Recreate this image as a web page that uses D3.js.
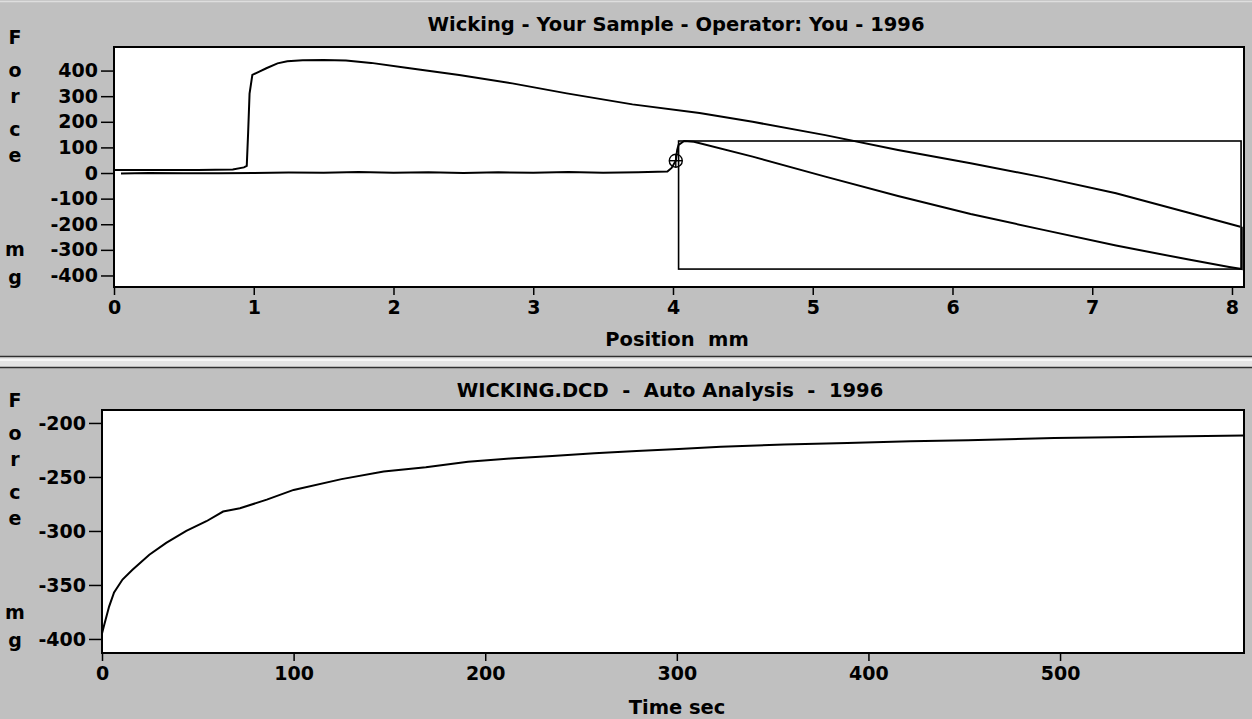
<!DOCTYPE html>
<html>
<head>
<meta charset="utf-8">
<script src="https://cdn.jsdelivr.net/npm/d3@7"></script>
<style>
  html, body { margin: 0; padding: 0; background: #c0c0c0; }
  svg { display: block; }
  text { font-family: "DejaVu Sans", sans-serif; font-weight: bold; fill: #000; white-space: pre; }
</style>
</head>
<body>
<svg id="chart"></svg>
<script>
// wicking test — force vs position (top) and force vs time (bottom)

// ── Top panel: advancing pass (position mm / force mg) ──────────────────────
const ADV_POS   = [0, 0.3, 0.6, 0.85, 0.93, 0.95, 0.96, 0.97, 0.99, 1.04, 1.09, 1.17, 1.24, 1.35, 1.5, 1.66,
                   1.84, 2.09, 2.47, 2.85, 3.24, 3.71, 4.19, 4.57, 5.09, 5.61, 6.13, 6.65, 7.17, 7.69, 8.06];
const ADV_FORCE = [12, 12, 12, 14, 22, 28, 160, 310, 383, 396, 409, 428, 436, 440, 441, 439,
                   430, 411, 383, 350, 311, 268, 234, 200, 148, 90, 38, -17, -79, -155, -210];

// ── Top panel: return pass ────────────────────────────────────────────────────
const REC_POS   = [8.07, 8.07, 7.98, 7.69, 7.17, 6.65, 6.13, 5.61, 5.09, 4.57, 4.15, 4.08, 4.04, 4.03, 4.02,
                   3.99, 3.96, 3.75, 3.5, 3.25, 3.0, 2.75, 2.5, 2.25, 2.0, 1.75, 1.5, 1.25, 1.0, 0.75, 0.5, 0.25, 0.05];
const REC_FORCE = [-210, -375, -367, -338, -283, -222, -160, -90, -14, 64, 122, 125, 110, 90, 48,
                   20, 6, 3, 1, 4, 1, 3, 0, 3, 1, 4, 1, 2, 0, -1, -1, 0, -2];

// analysis window + marker (data units)
const REGION_POS   = [4.04, 8.065];
const REGION_FORCE = [125, -375];
const MARK_POS = 4.02, MARK_FORCE = 48;

const POS_TICKS   = [0, 1, 2, 3, 4, 5, 6, 7, 8];
const FORCE_TICKS = [-400, -300, -200, -100, 0, 100, 200, 300, 400];

// ── Bottom panel: relaxation (time sec / force mg) ───────────────────────────
const TIME_SEC  = [0, 1, 3.7, 6.3, 10.7, 15.9, 24.7, 33.5, 44, 54.5, 63.2, 72, 86, 100, 125, 147, 169,
                   191, 213, 235, 257, 279, 301, 323, 356, 389, 422, 452, 497, 557, 596];
const TIME_FORCE = [-395, -388, -370, -357, -345, -336, -322, -311, -300, -291, -282, -279, -271, -262,
                    -252, -245, -241, -236, -233, -230.5, -228, -226, -224, -222, -220, -218.5, -217,
                    -216, -214, -212.5, -211.5];
const TIME_TICKS  = [0, 100, 200, 300, 400, 500];
const TFORCE_TICKS = [-400, -350, -300, -250, -200];

const TITLE_TOP = 'Wicking - Your Sample - Operator: You - 1996';
const TITLE_BOT = 'WICKING.DCD  -  Auto Analysis  -  1996';
const XLAB_TOP  = 'Position  mm';
const XLAB_BOT  = 'Time sec';
const YLAB = ['F', 'o', 'r', 'c', 'e', 'm', 'g'];
const YLAB_DY = [37, 70, 96, 129, 155, 249, 277];   // row offsets from panel top

const W = 1252, H = 719;
const FS_TICK = '19px';
const FS_LAB  = '19.5px';

const svg = d3.select('#chart').attr('width', W).attr('height', H);

svg.append('rect').attr('width', W).attr('height', H).attr('fill', '#c0c0c0');
svg.append('line').attr('x1', 0).attr('x2', W).attr('y1', 1.5).attr('y2', 1.5)
    .attr('stroke', '#dedede').attr('stroke-width', 1.5);

// ── Panel separator ───────────────────────────────────────────────────────────
svg.append('rect').attr('x', 0).attr('y', 357).attr('width', W).attr('height', 10).attr('fill', '#e4e4e4');
svg.append('line').attr('x1', 0).attr('x2', W).attr('y1', 360).attr('y2', 360)
    .attr('stroke', '#f6f6f6').attr('stroke-width', 2);
svg.append('line').attr('x1', 0).attr('x2', W).attr('y1', 356.5).attr('y2', 356.5)
    .attr('stroke', '#303030').attr('stroke-width', 1.5);
svg.append('line').attr('x1', 0).attr('x2', W).attr('y1', 367.5).attr('y2', 367.5)
    .attr('stroke', '#303030').attr('stroke-width', 1.5);

function panel(o) {
    const g = svg.append('g');
    const x = d3.scaleLinear().domain(o.xDomain).range([o.left, o.right]);
    const y = d3.scaleLinear().domain(o.yDomain).range([o.bottom, o.top]);

    g.append('rect')
        .attr('x', o.left).attr('y', o.top)
        .attr('width', o.right - o.left).attr('height', o.bottom - o.top)
        .attr('fill', '#fff');

    // axes — plain hyphen minus like the original
    const fmt = d => String(d);
    const ax = g.append('g').attr('transform', `translate(0,${o.bottom})`)
        .call(d3.axisBottom(x).tickValues(o.xTicks).tickSize(8).tickPadding(6).tickFormat(fmt));
    const ay = g.append('g').attr('transform', `translate(${o.left},0)`)
        .call(d3.axisLeft(y).tickValues(o.yTicks).tickSize(13).tickPadding(3).tickFormat(fmt));
    [ax, ay].forEach(a => {
        a.select('.domain').remove();
        a.attr('font-family', null).attr('font-size', null);
        a.selectAll('line').attr('stroke', '#000').attr('stroke-width', 1.5);
        a.selectAll('text').style('font-size', FS_TICK);
    });

    // curves
    const line = d3.line().x(d => x(d[0])).y(d => y(d[1]));
    o.series.forEach(s => {
        g.append('path')
            .datum(d3.zip(s[0], s[1]))
            .attr('d', line)
            .attr('fill', 'none')
            .attr('stroke', '#000')
            .attr('stroke-width', 2);
    });

    if (o.extra) o.extra(g, x, y);

    // frame
    g.append('rect')
        .attr('x', o.left).attr('y', o.top)
        .attr('width', o.right - o.left).attr('height', o.bottom - o.top)
        .attr('fill', 'none').attr('stroke', '#000').attr('stroke-width', 2);

    // texts
    g.append('text').attr('x', o.titleX).attr('y', o.titleY)
        .attr('text-anchor', 'middle').style('font-size', FS_LAB).text(o.title);
    g.append('text').attr('x', o.xlabX).attr('y', o.xlabY)
        .attr('text-anchor', 'middle').style('font-size', FS_LAB).text(o.xlab);
    YLAB.forEach((ch, i) => {
        g.append('text').attr('x', 15).attr('y', o.labTop + YLAB_DY[i])
            .attr('text-anchor', 'middle').attr('dy', '0.36em')
            .style('font-size', FS_TICK).text(ch);
    });
}

// ── Top panel ─────────────────────────────────────────────────────────────────
panel({
    left: 114, right: 1244, top: 47, bottom: 287,
    xDomain: [0, 8.086], yDomain: [-445, 492],
    xTicks: POS_TICKS, yTicks: FORCE_TICKS,
    series: [[ADV_POS, ADV_FORCE], [REC_POS, REC_FORCE]],
    title: TITLE_TOP, titleX: 676, titleY: 31,
    xlab: XLAB_TOP, xlabX: 677, xlabY: 346,
    labTop: 0,
    extra: (g, x, y) => {
        g.append('rect')
            .attr('x', x(REGION_POS[0])).attr('y', y(REGION_FORCE[0]))
            .attr('width', x(REGION_POS[1]) - x(REGION_POS[0]))
            .attr('height', y(REGION_FORCE[1]) - y(REGION_FORCE[0]))
            .attr('fill', 'none').attr('stroke', '#000').attr('stroke-width', 1.6);
        const cx = x(MARK_POS), cy = y(MARK_FORCE);
        g.append('circle').attr('cx', cx).attr('cy', cy).attr('r', 6.5)
            .attr('fill', 'none').attr('stroke', '#000').attr('stroke-width', 1.4);
        g.append('line').attr('x1', cx - 6.5).attr('x2', cx + 6.5).attr('y1', cy).attr('y2', cy)
            .attr('stroke', '#000').attr('stroke-width', 1.4);
        g.append('line').attr('x1', cx).attr('x2', cx).attr('y1', cy - 6.5).attr('y2', cy + 6.5)
            .attr('stroke', '#000').attr('stroke-width', 1.4);
    }
});

// ── Bottom panel ──────────────────────────────────────────────────────────────
panel({
    left: 102, right: 1244, top: 410, bottom: 653,
    xDomain: [0, 596], yDomain: [-413, -188],
    xTicks: TIME_TICKS, yTicks: TFORCE_TICKS,
    series: [[TIME_SEC, TIME_FORCE]],
    title: TITLE_BOT, titleX: 670, titleY: 397,
    xlab: XLAB_BOT, xlabX: 677, xlabY: 714,
    labTop: 363
});
</script>
</body>
</html>
